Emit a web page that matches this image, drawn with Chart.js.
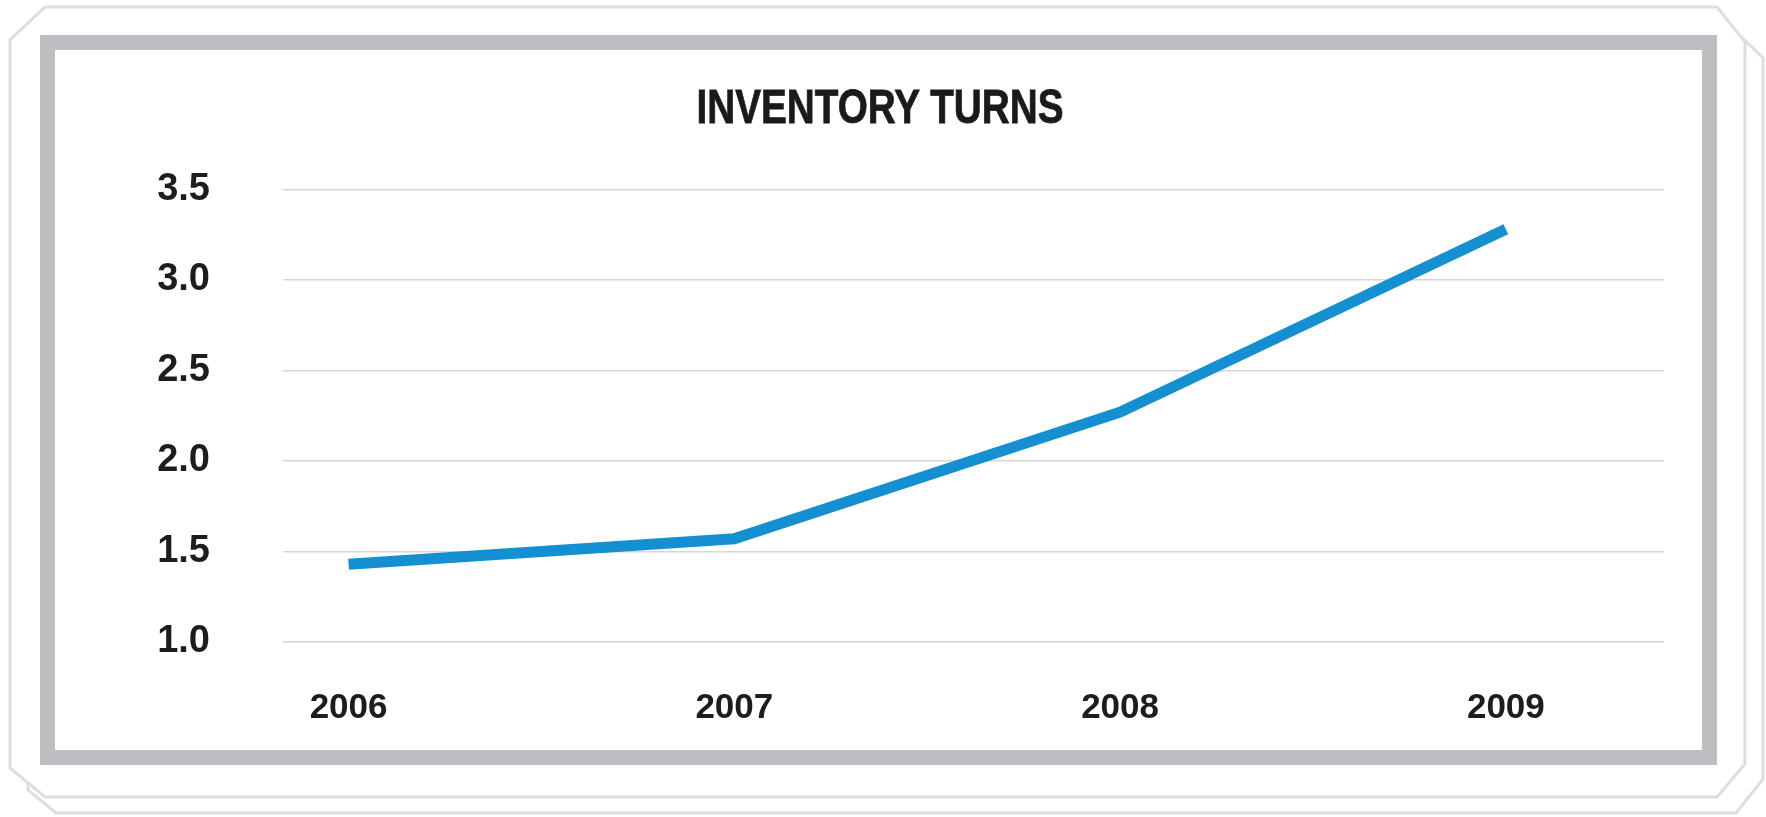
<!DOCTYPE html>
<html>
<head>
<meta charset="utf-8">
<title>Inventory Turns</title>
<script src="https://cdn.jsdelivr.net/npm/chart.js@4"></script>
<style>
    html, body { margin: 0; padding: 0; background: #fff; }
    #page { position: relative; width: 1766px; height: 817px; overflow: hidden; }
    #outline { position: absolute; left: 0; top: 0; }
    /* grey picture frame */
    #frame {
        position: absolute; left: 40px; top: 35px;
        width: 1647px; height: 700px;
        border: 15px solid #bdbdc2; background: #fff;
    }
    #chart-box { position: absolute; left: 53px; top: 50px; width: 1614px; height: 700px; }
    #chart-title {
        position: absolute; left: 580px; top: 81.5px; width: 600px;
        text-align: center; color: #1a1a1a;
        font: bold 49px/49px "Liberation Sans", Arial, sans-serif;
        -webkit-text-stroke: 0.8px #1a1a1a;
        transform: scaleX(0.79); transform-origin: 50% 50%;
        white-space: nowrap;
    }
</style>
</head>
<body>
<div id="page">
    <svg id="outline" width="1766" height="817">
        <polygon points="46,23 1727,23 1763,58 1763,779 1736,813 56,813 28,790 28,58"
                 fill="#fff" stroke="#dedede" stroke-width="3"/>
        <polygon points="45,7 1717,7 1745,42 1745,764 1717,797 45,797 10,768 10,40"
                 fill="#fff" stroke="#dedede" stroke-width="3"/>
    </svg>
    <div id="frame"></div>
    <div id="chart-box"><canvas id="chart-line"></canvas></div>
    <div id="chart-title"></div>
</div>
<script>
// Inventory turns per year
const years = [2006, 2007, 2008, 2009];
const turns = [1.43, 1.57, 2.27, 3.28];

const chartTitle = 'INVENTORY TURNS';
const yMin = 1.0;
const yMax = 3.5;
const yStep = 0.5;

const tickFont = '"Liberation Sans", Arial, sans-serif';

document.querySelector('#chart-title').innerText = chartTitle;

let lineContext = document.getElementById('chart-line').getContext('2d');
let lineChart = new Chart(lineContext, {
    type: 'line',
    data: {
        datasets: [{
            label: chartTitle,
            data: years.map((yr, i) => ({x: yr, y: turns[i]})),
            borderColor: '#1490d2',
            borderWidth: 11,
            borderCapStyle: 'butt',
            borderJoinStyle: 'round',
            pointRadius: 0,
            tension: 0,
            fill: false
        }]
    },
    options: {
        responsive: true,
        maintainAspectRatio: false,
        animation: false,
        layout: { padding: { left: 0, right: 3, top: 139.5, bottom: 21 } },
        plugins: {
            legend: { display: false },
            tooltip: { enabled: false },
            title: { display: false }
        },
        scales: {
            x: {
                type: 'linear',
                min: 2005.83,
                max: 2009.41,
                grid: { display: false, drawTicks: false },
                border: { display: false },
                afterBuildTicks: (axis) => { axis.ticks = years.map(v => ({value: v})); },
                afterFit: (axis) => { axis.height = 87; }, // label row + padding only
                ticks: {
                    color: '#1d1d1d',
                    font: { family: tickFont, size: 35, weight: 'bold' },
                    padding: 45,
                    maxRotation: 0,
                    callback: (v) => String(v)
                }
            },
            y: {
                min: yMin,
                max: yMax,
                afterFit: (axis) => { axis.width = 230; },
                grid: { color: '#d6d6d6', lineWidth: 1.5, drawTicks: false },
                border: { display: false },
                ticks: {
                    stepSize: yStep,
                    color: '#1d1d1d',
                    font: { family: tickFont, size: 38, weight: 'bold' },
                    padding: 73,
                    callback: (v) => v.toFixed(1)
                }
            }
        }
    }
});
</script>
</body>
</html>
